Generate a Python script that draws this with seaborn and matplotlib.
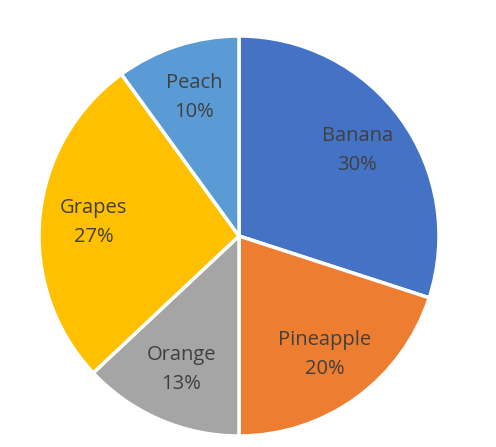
import matplotlib
matplotlib.use("Agg")
import matplotlib.pyplot as plt
import seaborn as sns

categories = ["Banana", "Pineapple", "Orange", "Grapes", "Peach"]
values = [30, 20, 13, 27, 10]
colors = ["#4472C4", "#ED7D31", "#A5A5A5", "#FFC000", "#5B9BD5"]

sns.set_theme(style="white")
plt.rcParams['font.family'] = ['Open Sans', 'DejaVu Sans']

fig = plt.figure(figsize=(4.96, 4.47), dpi=100)
ax = fig.add_axes([(239 - 200) / 496, (211 - 200) / 447, 400 / 496, 400 / 447])

labels_iter = iter(categories)
def fmt(p):
    return f"{next(labels_iter)}\n{p:.0f}%"

wedges, texts, autotexts = ax.pie(
    values, colors=sns.color_palette(colors), startangle=90, counterclock=False,
    autopct=fmt, pctdistance=0.73,
    wedgeprops=dict(edgecolor="white", linewidth=2.5),
    textprops=dict(color="#404040", fontsize=14.5, linespacing=1.6),
)
ax.set_aspect("equal")
ax.set_xlim(-1.0, 1.0)
ax.set_ylim(-1.0, 1.0)
ax.axis("off")
fig.savefig("out.png", dpi=100, facecolor="white")
